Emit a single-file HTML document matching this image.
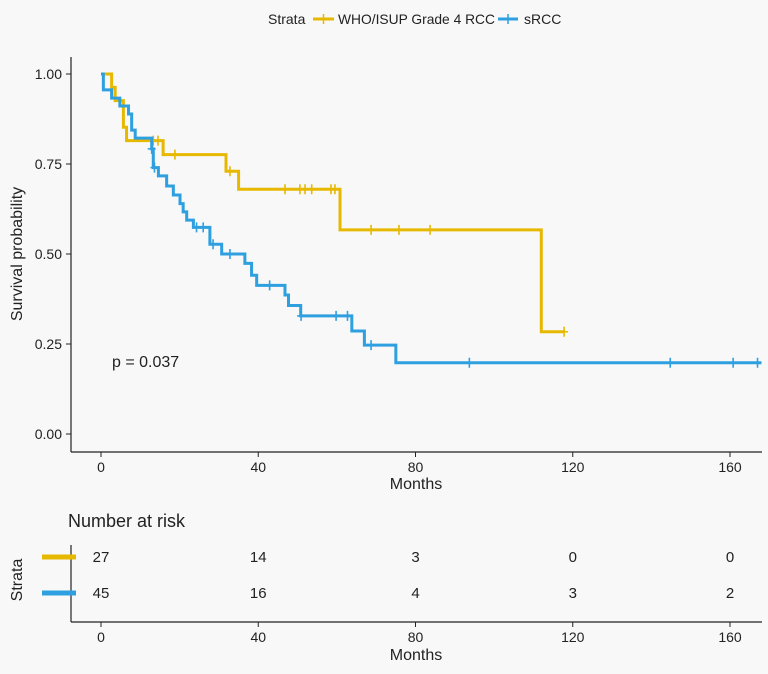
<!DOCTYPE html>
<html><head><meta charset="utf-8"><style>
html,body{margin:0;padding:0;background:#f8f8f8;}
svg{display:block;font-family:"Liberation Sans",sans-serif;}
</style></head><body>
<svg id="c" width="768" height="674" viewBox="0 0 768 674">
<rect width="768" height="674" fill="#f8f8f8"/>
<g>
<text x="268" y="24" font-size="14" fill="#222">Strata</text>
<g><line x1="313" y1="19" x2="334" y2="19" stroke="#E7B800" stroke-width="3"/><line x1="323.5" y1="14" x2="323.5" y2="24" stroke="#E7B800" stroke-width="1.5"/><text x="338" y="24" font-size="14" fill="#222" textLength="157" lengthAdjust="spacingAndGlyphs">WHO/ISUP Grade 4 RCC</text></g>
<g><line x1="498" y1="19" x2="518" y2="19" stroke="#2E9FDF" stroke-width="3"/><line x1="508" y1="14" x2="508" y2="24" stroke="#2E9FDF" stroke-width="1.5"/><text x="524" y="24" font-size="14" fill="#222">sRCC</text></g>
</g>
<g id="plot"></g>
<g id="risk"></g>
</svg>
<script>
const xTicks=[0,40,80,120,160];
const yTicks=[0,0.25,0.5,0.75,1.0];
const yTickLabels=["0.00","0.25","0.50","0.75","1.00"];
const g4Times=[0,2.7,3.6,5.7,6.5,15.8,31.8,35,60.8,112,117.8];
const g4Surv=[1,0.963,0.926,0.852,0.815,0.776,0.730,0.680,0.567,0.284,0.284];
const g4Censor=[13.3,14.5,18.8,32.8,46.8,50.6,51.9,53.6,58.5,59.5,68.7,75.8,83.7,117.8];
const sTimes=[0,0.6,2.7,4.8,7,7.8,8.7,12.9,13.3,14.6,16.7,18.4,20.1,20.9,21.8,23.5,27.7,30.7,36.6,38.3,39.6,46.8,47.7,50.8,63.8,67,75,168];
const sSurv=[1,0.956,0.933,0.911,0.889,0.844,0.822,0.792,0.74,0.717,0.689,0.664,0.640,0.617,0.594,0.574,0.527,0.5,0.474,0.441,0.413,0.386,0.357,0.328,0.286,0.247,0.198,0.198];
const sCensor=[12.9,13.6,24.3,26,28.5,32.8,42.9,50.9,59.8,62.7,68.7,93.7,144.8,160.8,167];
const riskTimes=[0,40,80,120,160];
const riskG4=[27,14,3,0,0];
const riskS=[45,16,4,3,2];
const NS="http://www.w3.org/2000/svg";
const X=t=>101+t*(730-101)/160;
const Y=s=>434-s*360;
function el(tag,attrs,parent,text){const e=document.createElementNS(NS,tag);for(const k in attrs)e.setAttribute(k,attrs[k]);if(text!==undefined)e.textContent=text;parent.appendChild(e);return e;}
const plot=document.getElementById('plot');
let a=el('line',{x1:71,y1:57,x2:71,y2:452,stroke:'#222','stroke-width':1.2},plot);

a=el('line',{x1:71,y1:452,x2:762,y2:452,stroke:'#222','stroke-width':1.2},plot);

yTicks.forEach((v,i)=>{
  const t=el('line',{x1:66,y1:Y(v),x2:71,y2:Y(v),stroke:'#222'},plot);
  
  const l=el('text',{x:62,y:Y(v)+5,'text-anchor':'end','font-size':14,fill:'#222'},plot,yTickLabels[i]);
  
});
xTicks.forEach(v=>{
  const t=el('line',{x1:X(v),y1:452,x2:X(v),y2:457,stroke:'#222'},plot);
  
  const l=el('text',{x:X(v),y:472,'text-anchor':'middle','font-size':14,fill:'#222'},plot,v);
  
});
let tt=el('text',{x:416,y:489,'text-anchor':'middle','font-size':16,fill:'#222'},plot,'Months');

tt=el('text',{x:0,y:0,transform:'translate(22,254) rotate(-90)','text-anchor':'middle','font-size':16,fill:'#222'},plot,'Survival probability');

tt=el('text',{x:112,y:367,'font-size':16,fill:'#222'},plot,'p = 0.037');

function stepAt(times,surv,t){let s=surv[0];for(let i=0;i<times.length;i++){if(times[i]<=t)s=surv[i];}return s;}
function curve(times,surv,cens,color,name){
  let d='M'+X(times[0])+','+Y(surv[0]);
  for(let i=1;i<times.length;i++){d+=' H'+X(times[i])+' V'+Y(surv[i]);}
  const p=el('path',{d:d,fill:'none',stroke:color,'stroke-width':3},plot);
  
  cens.forEach(c=>{
    const y=Y(stepAt(times,surv,c));
    const m=el('path',{d:'M'+(X(c)-4)+','+y+' H'+(X(c)+4)+' M'+X(c)+','+(y-5)+' V'+(y+5),stroke:color,'stroke-width':1.6,fill:'none'},plot);
    
  });
}
curve(g4Times,g4Surv,g4Censor,'#E7B800','grade4');
curve(sTimes,sSurv,sCensor,'#2E9FDF','srcc');
const risk=document.getElementById('risk');
tt=el('text',{x:68,y:527,'font-size':18,fill:'#222'},risk,'Number at risk');

a=el('line',{x1:71,y1:545,x2:71,y2:622,stroke:'#222','stroke-width':1.2},risk);

a=el('line',{x1:71,y1:622,x2:762,y2:622,stroke:'#222','stroke-width':1.2},risk);

[[562,'#E7B800',riskG4,'grade4'],[598,'#2E9FDF',riskS,'srcc']].forEach(([y,c,vals,n])=>{
  const k=el('line',{x1:42,y1:y-5,x2:76,y2:y-5,stroke:c,'stroke-width':5},risk);
  
  vals.forEach((v,i)=>{
    const l=el('text',{x:X(riskTimes[i]),y:y,'text-anchor':'middle','font-size':15,fill:'#222'},risk,v);
    
  });
});
xTicks.forEach(v=>{
  const t=el('line',{x1:X(v),y1:622,x2:X(v),y2:627,stroke:'#222'},risk);
  
  const l=el('text',{x:X(v),y:642,'text-anchor':'middle','font-size':14,fill:'#222'},risk,v);
  
});
tt=el('text',{x:416,y:660,'text-anchor':'middle','font-size':16,fill:'#222'},risk,'Months');

tt=el('text',{x:0,y:0,transform:'translate(22,580) rotate(-90)','text-anchor':'middle','font-size':16,fill:'#222'},risk,'Strata');

</script>
</body></html>
